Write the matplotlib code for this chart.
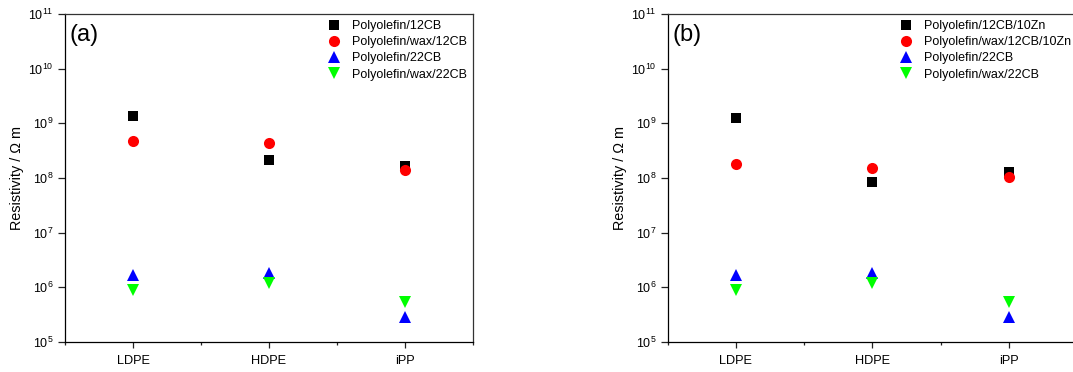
import matplotlib
matplotlib.use("Agg")
import matplotlib.pyplot as plt
from matplotlib.ticker import FixedLocator, LogFormatterSciNotation, NullFormatter

plt.rcParams["font.family"] = ["Liberation Sans", "DejaVu Sans"]
plt.rcParams["mathtext.fontset"] = "custom"
plt.rcParams["mathtext.rm"] = "Liberation Sans"
plt.rcParams["mathtext.it"] = "Liberation Sans:italic"

categories = ["LDPE", "HDPE", "iPP"]
decades = [1e5, 1e6, 1e7, 1e8, 1e9, 1e10, 1e11]

# Panel (a)
labels_a = ["Polyolefin/12CB", "Polyolefin/wax/12CB",
            "Polyolefin/22CB", "Polyolefin/wax/22CB"]
pe_12cb = [1.35e9, 2.1e8, 1.68e8]
pe_wax_12cb = [4.7e8, 4.4e8, 1.4e8]
pe_22cb = [1.67e6, 1.8e6, 2.9e5]
pe_wax_22cb = [8.9e5, 1.18e6, 5.5e5]

# Panel (b)
labels_b = ["Polyolefin/12CB/10Zn", "Polyolefin/wax/12CB/10Zn",
            "Polyolefin/22CB", "Polyolefin/wax/22CB"]
pe_12cb_zn = [1.27e9, 8.45e7, 1.31e8]
pe_wax_12cb_zn = [1.83e8, 1.52e8, 1.03e8]

styles = [
    dict(marker="s", color="black", ms=6.7),
    dict(marker="o", color="red", ms=8.0),
    dict(marker="^", color="blue", ms=9.2),
    dict(marker="v", color="#00ff00", ms=9.2),
]

W, H = 1073, 372
fig = plt.figure(figsize=(W / 100, H / 100), dpi=100)


def px_axes(x0, x1, y0, y1):
    return fig.add_axes([x0 / W, 1 - y1 / H, (x1 - x0) / W, (y1 - y0) / H])


def draw_panel(ax, series, labels, tag):
    x = list(range(len(categories)))
    for vals, lab, st in zip(series, labels, styles):
        ax.plot(x, vals, linestyle="none", marker=st["marker"], color=st["color"],
                markersize=st["ms"], markeredgewidth=0, label=lab)
    ax.set_yscale("log")
    ax.set_ylim(decades[0], decades[-1])
    ax.set_xlim(-0.5, 2.5)
    ax.yaxis.set_major_locator(FixedLocator(decades))
    ax.yaxis.set_major_formatter(LogFormatterSciNotation())
    ax.yaxis.set_minor_locator(FixedLocator([]))
    ax.yaxis.set_minor_formatter(NullFormatter())
    ax.set_xticks(x)
    ax.set_xticklabels(categories, fontsize=9.2)
    ax.xaxis.set_minor_locator(FixedLocator([-0.5, 0.5, 1.5, 2.5]))
    ax.xaxis.set_minor_formatter(NullFormatter())
    ax.tick_params(axis="x", which="major", direction="out", length=4.5,
                   width=0.9, color="#222222", pad=4.5)
    ax.tick_params(axis="y", which="major", direction="out", length=5,
                   width=0.9, color="#222222", pad=3, labelsize=9)
    ax.tick_params(axis="x", which="minor", direction="out", length=2.5,
                   width=0.9, color="#222222", labelbottom=False)
    ax.tick_params(top=False, right=False)
    for sp in ax.spines.values():
        sp.set_linewidth(0.9)
        sp.set_color("#333333")
    ax.spines["left"].set_color("black")
    ax.spines["bottom"].set_color("black")
    ax.set_ylabel("Resistivity / \u03a9 m", fontsize=10.4, labelpad=3)
    ax.text(0.012, 0.968, tag, transform=ax.transAxes, ha="left", va="top",
            fontsize=17)
    ax.legend(loc="upper right", frameon=False, fontsize=9,
              handlelength=1.0, handletextpad=0.9, labelspacing=0.33,
              borderaxespad=0.15, borderpad=0.35, markerscale=1.0)


ax_a = px_axes(65, 473, 14, 342)
draw_panel(ax_a, [pe_12cb, pe_wax_12cb, pe_22cb, pe_wax_22cb], labels_a, "(a)")

ax_b = px_axes(667.7, 1077.2, 14, 342)
draw_panel(ax_b, [pe_12cb_zn, pe_wax_12cb_zn, pe_22cb, pe_wax_22cb], labels_b, "(b)")

fig.savefig("out.png", dpi=100)
